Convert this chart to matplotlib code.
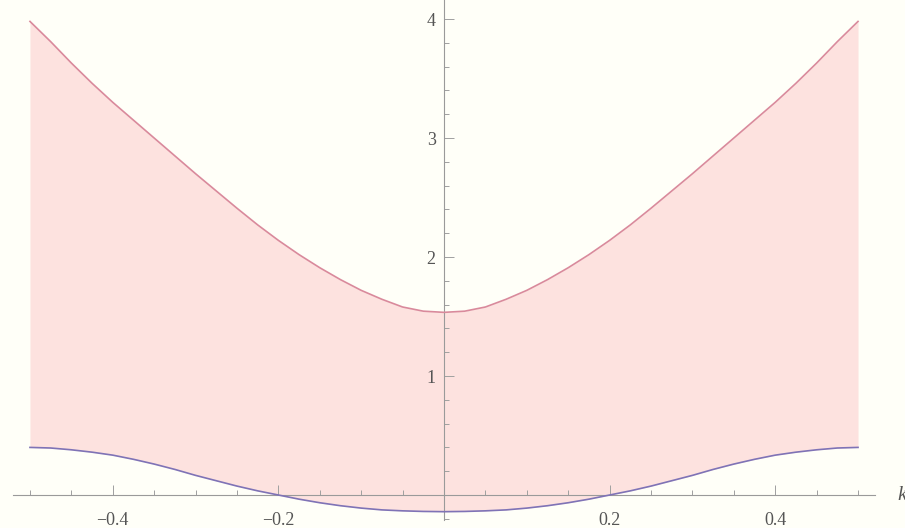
import matplotlib
matplotlib.use("Agg")
import matplotlib.pyplot as plt
from matplotlib.ticker import FixedLocator, MultipleLocator

# Data (k, upper band, lower band)
k = [-0.5, -0.475, -0.45, -0.425, -0.4, -0.375, -0.35, -0.325, -0.3, -0.275,
     -0.25, -0.225, -0.2, -0.175, -0.15, -0.125, -0.1, -0.075, -0.05, -0.025,
     0.0, 0.025, 0.05, 0.075, 0.1, 0.125, 0.15, 0.175, 0.2, 0.225,
     0.25, 0.275, 0.3, 0.325, 0.35, 0.375, 0.4, 0.425, 0.45, 0.475, 0.5]
upper = [3.98, 3.81, 3.63, 3.46, 3.30, 3.15, 3.00, 2.85, 2.70, 2.555,
         2.41, 2.27, 2.14, 2.02, 1.91, 1.81, 1.72, 1.645, 1.58, 1.545,
         1.535, 1.545, 1.58, 1.645, 1.72, 1.81, 1.91, 2.02, 2.14, 2.27,
         2.41, 2.555, 2.70, 2.85, 3.00, 3.15, 3.30, 3.46, 3.63, 3.81, 3.98]
lower = [0.40, 0.395, 0.38, 0.36, 0.335, 0.30, 0.26, 0.215, 0.165, 0.12,
         0.075, 0.035, 0.0, -0.035, -0.065, -0.09, -0.11, -0.125, -0.133, -0.138,
         -0.14, -0.138, -0.133, -0.125, -0.11, -0.09, -0.065, -0.035, 0.0, 0.035,
         0.075, 0.12, 0.165, 0.215, 0.26, 0.30, 0.335, 0.36, 0.38, 0.395, 0.40]

x_major = [-0.4, -0.2, 0.2, 0.4]
x_labels = ["\u22120.4", "\u22120.2", "0.2", "0.4"]
y_major = [1, 2, 3, 4]
y_labels = ["1", "2", "3", "4"]

bg = "#fffff8"
fig = plt.figure(figsize=(9.05, 5.28), dpi=100, facecolor=bg)
ax = fig.add_axes([13 / 905, 8 / 528, 862 / 905, 520 / 528], facecolor=bg)

ax.fill_between(k, lower, upper, color="#fde2df", linewidth=0, zorder=1)
ax.plot(k, upper, color="#d98a9c", linewidth=1.2, zorder=3,
        solid_joinstyle="round")
ax.plot(k, lower, color="#7f73b6", linewidth=1.2, zorder=3,
        solid_joinstyle="round")

ax.set_xlim(-0.5205, 0.5205)
ax.set_ylim(-0.21, 4.16)

for s in ["top", "right"]:
    ax.spines[s].set_visible(False)
ax.spines["left"].set_position(("data", 0))
ax.spines["bottom"].set_position(("data", 0))
for s in ["left", "bottom"]:
    ax.spines[s].set_color("#9a9a9a")
    ax.spines[s].set_linewidth(0.8)
    ax.spines[s].set_zorder(2)

ax.xaxis.set_major_locator(FixedLocator(x_major))
ax.set_xticklabels(x_labels)
ax.xaxis.set_minor_locator(MultipleLocator(0.05))
ax.yaxis.set_major_locator(FixedLocator(y_major))
ax.set_yticklabels(y_labels)
ax.yaxis.set_minor_locator(MultipleLocator(0.2))

ax.tick_params(which="both", direction="in", color="#a0a0a0", width=0.7,
               labelcolor="#555555", labelsize=13)
ax.tick_params(which="major", length=7)
ax.tick_params(which="minor", length=3.5)
ax.tick_params(axis="x", which="major", pad=12)
ax.tick_params(axis="y", which="major", pad=6)
for lab in ax.get_xticklabels() + ax.get_yticklabels():
    lab.set_fontfamily("Liberation Serif")

fig.text(897 / 905, 1 - 495 / 528, "k", fontsize=15, fontstyle="italic",
         family="Liberation Serif", color="#555555", ha="left", va="center")

fig.savefig("out.png", dpi=100, facecolor=bg)
